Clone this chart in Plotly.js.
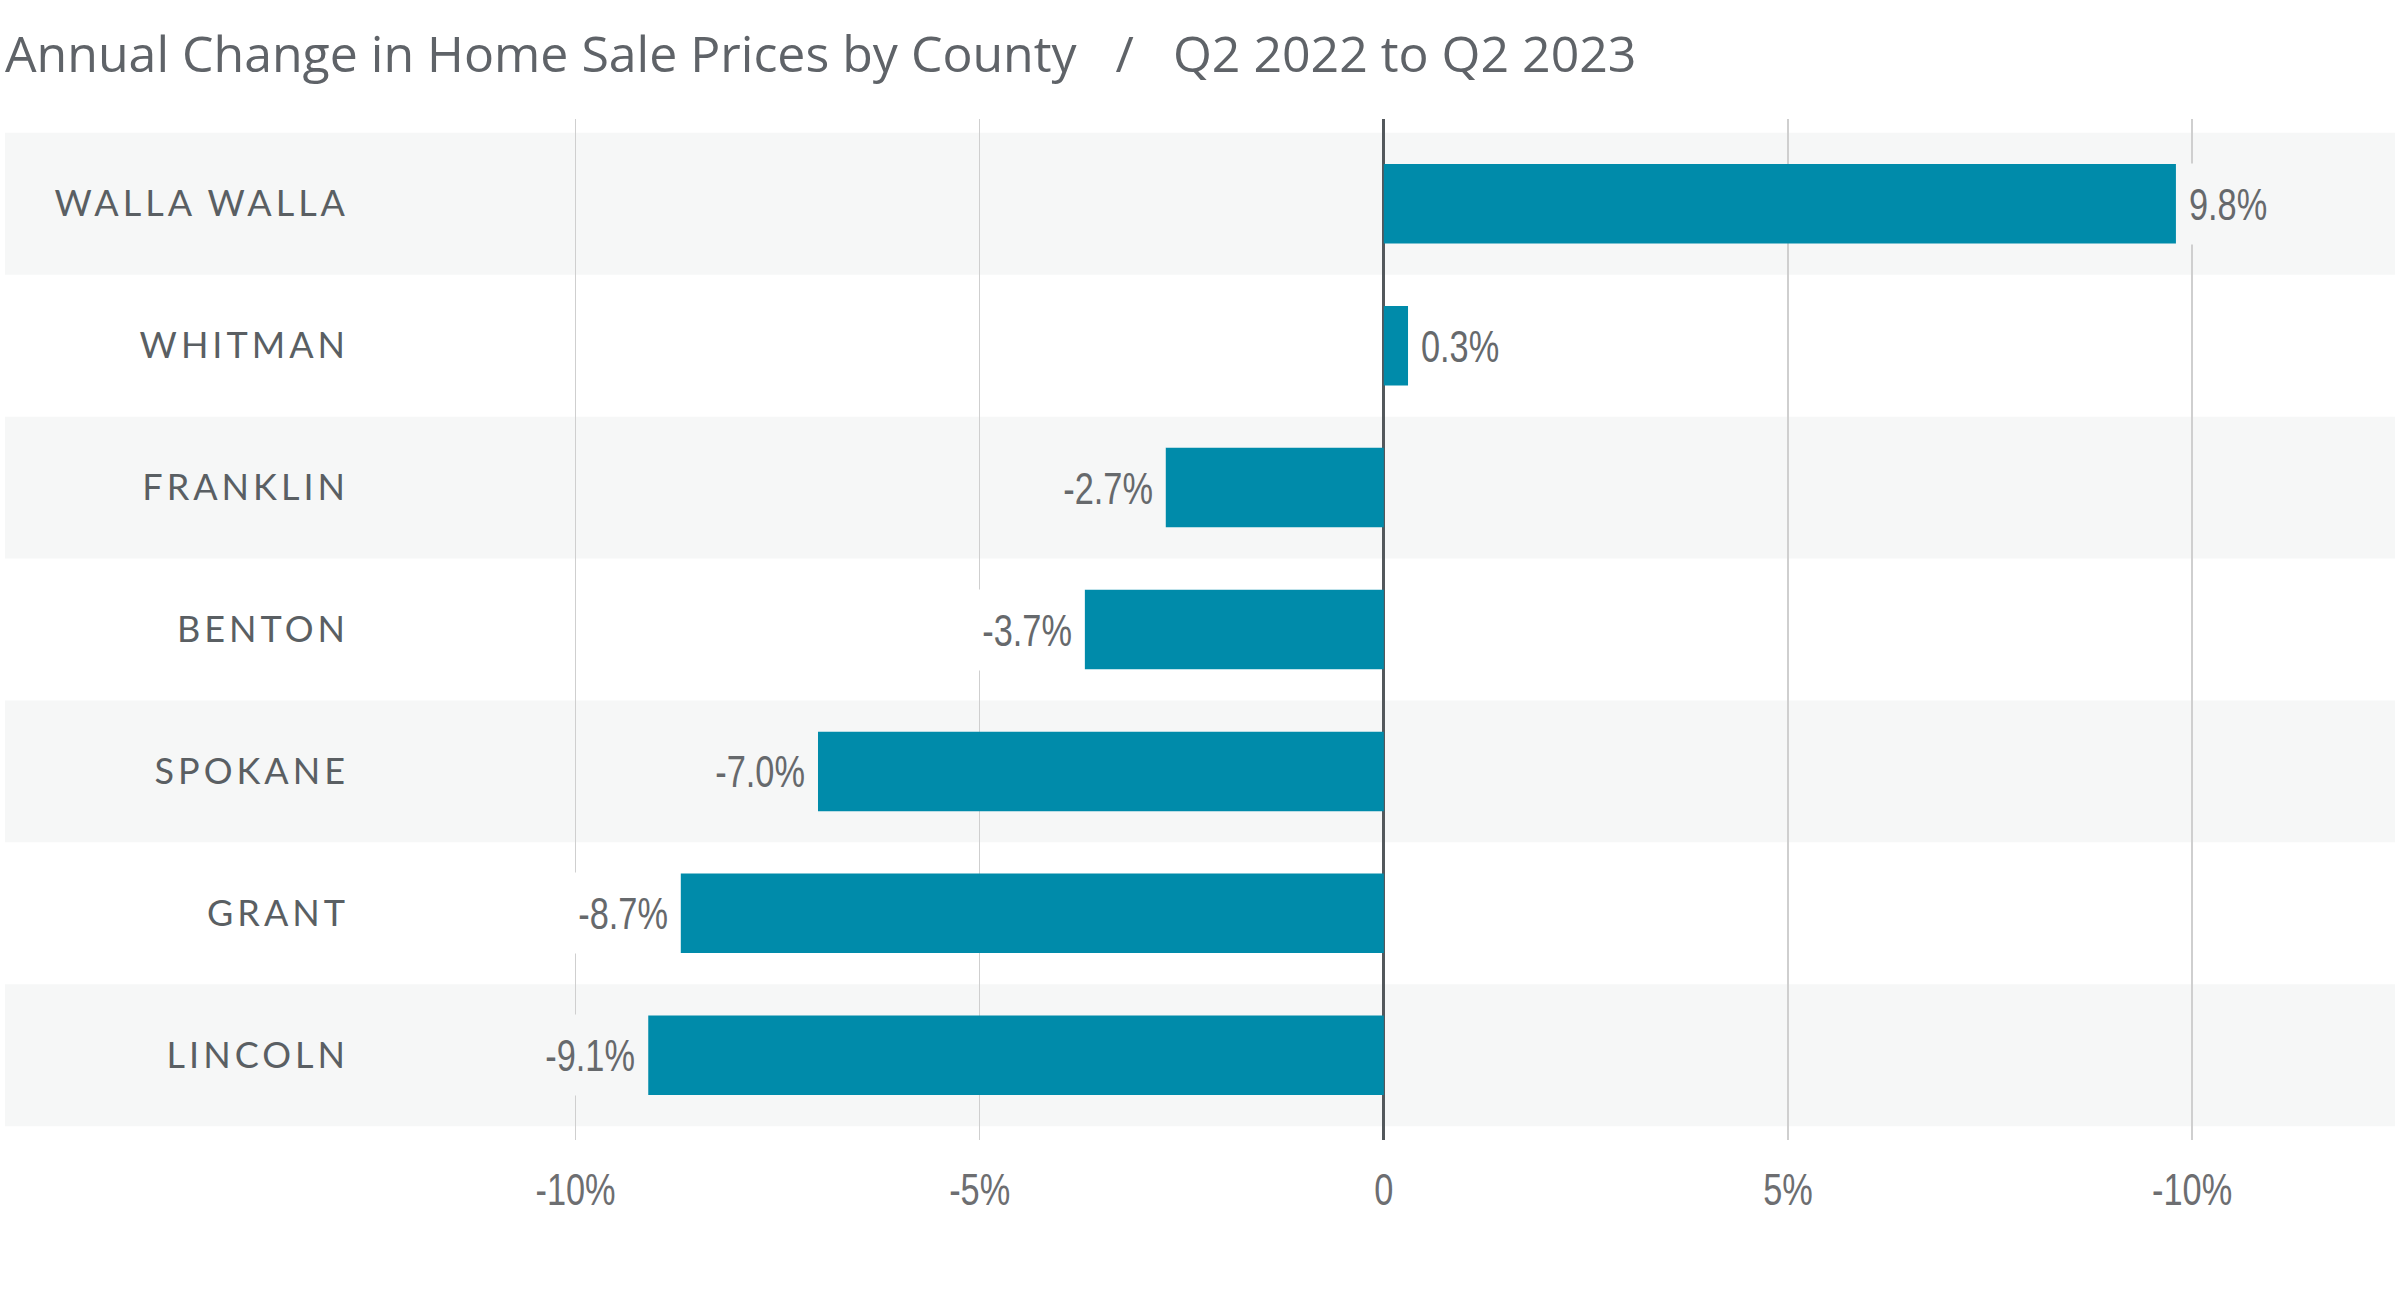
<!DOCTYPE html>
<html>
<head>
<meta charset="utf-8">
<script src="https://cdn.plot.ly/plotly-3.0.1.min.js"></script>
<style>
  html, body { margin: 0; padding: 0; background: #ffffff; }
  #chart { width: 2400px; height: 1306px; }
  .ytick text { letter-spacing: 4px; }
</style>
</head>
<body>
<div id="chart"></div>
<script>
const titleText = 'Annual Change in Home Sale Prices by County\u00a0\u00a0\u00a0/\u00a0\u00a0\u00a0Q2 2022 to Q2 2023';
const categories = ['WALLA WALLA', 'WHITMAN', 'FRANKLIN', 'BENTON', 'SPOKANE', 'GRANT', 'LINCOLN'];
const values = [9.8, 0.3, -2.7, -3.7, -7.0, -8.7, -9.1];
const tickVals = [-10, -5, 0, 5, 10];
const tickText = ['-10%', '-5%', '0', '5%', '-10%'];

const barColor = '#008baa';
const bandColor = '#f6f7f7';
const numFont = 'Arimo, "Liberation Sans", Arial, sans-serif';
const condense = 0.78;
const W = 2400, H = 1306;
const mL = 380, mR = 5, mT = 119, mB = 166;
const plotW = W - mL - mR;

const shapes = [];
categories.forEach((c, i) => {
  if (i % 2 === 0) {
    shapes.push({
      type: 'rect', layer: 'below',
      xref: 'paper', yref: 'y',
      x0: -(mL - 5) / plotW, x1: 1,
      y0: i - 0.5, y1: i + 0.5,
      fillcolor: bandColor, line: { width: 0 }
    });
  }
});

const annotations = values.map((v, i) => ({
  x: v, y: categories[i], xref: 'x', yref: 'y',
  text: v.toFixed(1) + '%',
  showarrow: false,
  xanchor: v >= 0 ? 'left' : 'right',
  align: v >= 0 ? 'left' : 'right',
  yanchor: 'middle',
  bgcolor: i % 2 === 0 ? bandColor : '#ffffff',
  borderpad: 12,
  height: 56,
  font: { family: numFont, size: 44, color: '#66696c' }
}));

const trace = {
  type: 'bar',
  orientation: 'h',
  x: values,
  y: categories,
  width: 0.56,
  marker: { color: barColor, line: { width: 0 } },
  hoverinfo: 'skip'
};

const layout = {
  width: W, height: H,
  margin: { l: mL, r: mR, t: mT, b: mB, pad: 0 },
  paper_bgcolor: '#ffffff',
  plot_bgcolor: 'rgba(0,0,0,0)',
  showlegend: false,
  title: {
    text: titleText,
    xref: 'container', yref: 'container',
    x: 5 / W, xanchor: 'left',
    y: 1 - 54 / H, yanchor: 'middle',
    font: { family: '"Open Sans", Lato, sans-serif', size: 50, color: '#5f6368' }
  },
  xaxis: {
    range: [(mL - 1383.8) / 80.83, (W - mR - 1383.8) / 80.83],
    tickvals: tickVals,
    ticktext: tickText,
    showgrid: true,
    gridcolor: '#cfcfcf',
    gridwidth: 1.5,
    zeroline: true,
    zerolinecolor: '#53585c',
    zerolinewidth: 3,
    showline: false,
    ticks: '',
    ticklabelstandoff: 20,
    tickfont: { family: numFont, size: 44, color: '#6d6e71' },
    fixedrange: true
  },
  yaxis: {
    type: 'category',
    categoryorder: 'array',
    categoryarray: categories,
    range: [6.5975, -0.5975],
    showgrid: false,
    zeroline: false,
    showline: false,
    ticks: '',
    ticklabelstandoff: 30,
    tickfont: { family: 'Lato, "Open Sans", sans-serif', size: 36, color: '#5a5f63' },
    fixedrange: true
  },
  shapes: shapes,
  annotations: annotations
};

Plotly.newPlot('chart', [trace], layout, { displayModeBar: false, staticPlot: true }).then(() => {
  // narrow the numeric labels to mimic the condensed face of the original
  document.querySelectorAll('#chart .annotation-text, #chart .xtick text').forEach(t => {
    const len = t.getComputedTextLength();
    t.setAttribute('textLength', (len * condense).toFixed(2));
    t.setAttribute('lengthAdjust', 'spacingAndGlyphs');
  });
});
</script>
</body>
</html>
